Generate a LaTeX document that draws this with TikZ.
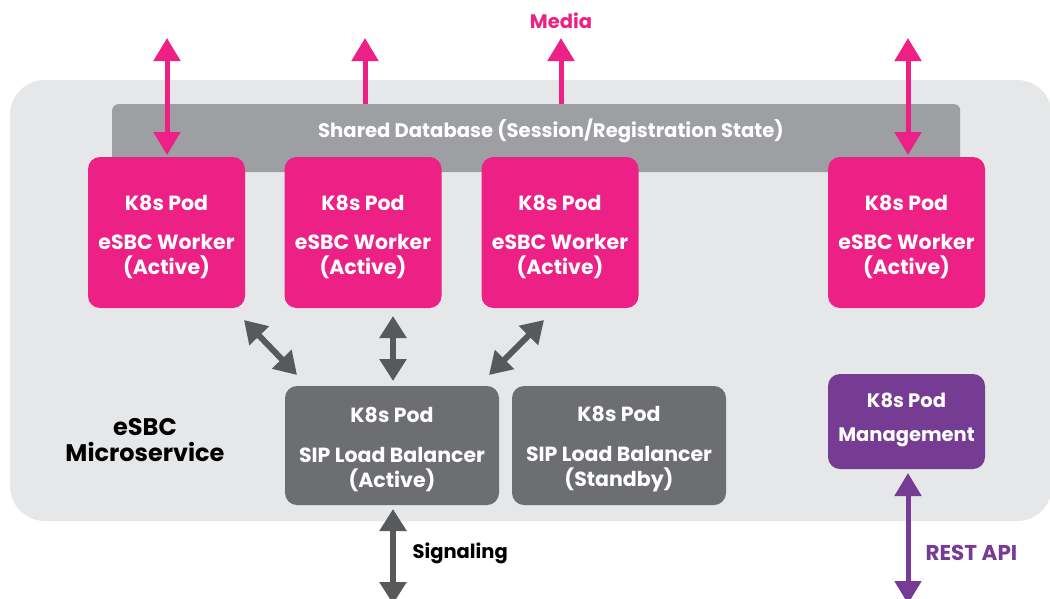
\documentclass[tikz,border=0pt]{standalone}
\usepackage{fontspec}
\setmainfont{Poppins}
\usetikzlibrary{arrows.meta}
\definecolor{bgc}{HTML}{E6E7E8}
\definecolor{dbc}{HTML}{9D9FA2}
\definecolor{pinkc}{HTML}{EC2085}
\definecolor{lbc}{HTML}{6D6E71}
\definecolor{arrc}{HTML}{58595B}
\definecolor{purpc}{HTML}{763C94}
\begin{document}
\begin{tikzpicture}[x=1pt,y=-1pt,
  box/.style={rectangle, rounded corners=12pt, inner sep=0pt},
  btxt/.style={inner sep=0pt, align=center, text=white, font=\fontsize{20.5}{25}\selectfont\bfseries},
  pod/.style={box, fill=pinkc, minimum width=157pt, minimum height=151pt},
  lbbox/.style={box, fill=lbc, minimum width=214pt, minimum height=119pt},
  mgbox/.style={box, fill=purpc, minimum width=157pt, minimum height=95pt},
  pinkarr/.style={draw=pinkc, line width=5pt, arrows={-Triangle[width=26pt,length=23pt]}},
  pinkdbl/.style={draw=pinkc, line width=5pt, arrows={Triangle[width=26pt,length=23pt]-Triangle[width=26pt,length=23pt]}},
  grayarr/.style={draw=arrc, line width=6pt, arrows={Triangle[width=26pt,length=22pt]-Triangle[width=26pt,length=22pt]}},
  purparr/.style={draw=purpc, line width=5pt, arrows={Triangle[width=26pt,length=23pt]-Triangle[width=26pt,length=23pt]}},
  lbl/.style={font=\fontsize{19.5}{22}\selectfont\bfseries}
]
\useasboundingbox (0,0) rectangle (1050,598);
\begin{scope}
\clip (0,0) rectangle (1050,598);
\fill[bgc, rounded corners=35pt] (10,80) rectangle (1052,521);
\end{scope}

% shared database
\node[rectangle, fill=dbc, rounded corners=6pt, minimum width=848pt, minimum height=68pt, inner sep=0pt,
  anchor=north west] (db) at (112,104) {};
\node[text=white, font=\fontsize{19.6}{22}\selectfont\bfseries] (dbt) at (551,131) {Shared Database (Session/Registration State)};

% pods
\node[pod] (p1) at (166.5,232.5) {};
\node[pod] (p2) at (363,232.5) {};
\node[pod] (p3) at (560,232.5) {};
\node[pod] (p4) at (906.5,232.5) {};
\node[btxt, yshift=-4pt] (p1t) at (p1.center) {K8s Pod\\[14pt]eSBC Worker\\(Active)};
\node[btxt, yshift=-4pt] (p2t) at (p2.center) {K8s Pod\\[14pt]eSBC Worker\\(Active)};
\node[btxt, yshift=-4pt] (p3t) at (p3.center) {K8s Pod\\[14pt]eSBC Worker\\(Active)};
\node[btxt, yshift=-4pt] (p4t) at (p4.center) {K8s Pod\\[14pt]eSBC Worker\\(Active)};

% load balancers
\node[lbbox] (lb1) at (392,445.5) {};
\node[lbbox] (lb2) at (619,445.5) {};
\node[btxt, yshift=-4pt] (lb1t) at (lb1.center) {K8s Pod\\[15pt]SIP Load Balancer\\(Active)};
\node[btxt, yshift=-4pt] (lb2t) at (lb2.center) {K8s Pod\\[15pt]SIP Load Balancer\\(Standby)};

% management
\node[mgbox] (mg) at (906.5,421.5) {};
\node[btxt, font=\fontsize{19.5}{25}\selectfont\bfseries, yshift=2pt] (mgt) at (mg.center) {K8s Pod\\[9pt]Management};

% label
\node[font=\fontsize{24}{26}\selectfont\bfseries, align=center] (ms) at (145,440) {eSBC\\Microservice};

% media
\node[lbl, text=pinkc] (media) at (561,21) {Media};
\coordinate (m1) at (167,38);
\coordinate (m2) at (365,38);
\coordinate (m3) at (561,38);
\coordinate (m4) at (908,38);
\coordinate (d1) at (167,155);
\coordinate (d4) at (908,155);
\coordinate (b2) at (365,104);
\coordinate (b3) at (561,104);
\draw[pinkdbl] (m1) -- (d1);
\draw[pinkdbl] (m4) -- (d4);
\draw[pinkarr] (b2) -- (m2);
\draw[pinkarr] (b3) -- (m3);

% worker <-> LB
\coordinate (a1s) at (244,320);
\coordinate (a1e) at (297,375);
\coordinate (a2s) at (393,316);
\coordinate (a2e) at (393,381);
\coordinate (a3s) at (544,320);
\coordinate (a3e) at (489,375);
\draw[grayarr] (a1s) -- (a1e);
\draw[grayarr] (a2s) -- (a2e);
\draw[grayarr] (a3s) -- (a3e);

% signaling
\coordinate (s1) at (393,509);
\coordinate (s2) at (393,604);
\draw[grayarr] (s1) -- (s2);
\node[lbl, anchor=west] (sig) at (409,553) {Signaling};

% REST
\coordinate (r1) at (908,473);
\coordinate (r2) at (908,604);
\draw[purparr] (r1) -- (r2);
\node[lbl, anchor=west, text=purpc, font=\fontsize{21.5}{22}\selectfont\bfseries] (rest) at (922,553) {REST API};
\end{tikzpicture}
\end{document}
